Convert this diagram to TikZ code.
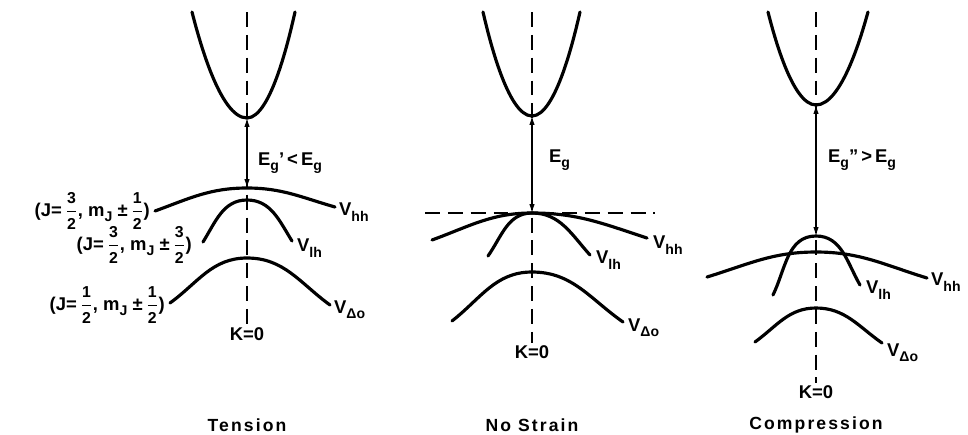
\documentclass[tikz,border=0pt]{standalone}
\usepackage{fontspec}
\setmainfont{Liberation Sans}
\usetikzlibrary{arrows.meta, positioning}
\newcommand{\lowsub}[1]{\raisebox{-0.55ex}{\footnotesize #1}}
\newcommand{\halves}[2]{$\displaystyle\frac{\mbox{\small\bfseries #1}}{\mbox{\small\bfseries #2}}$}
\tikzset{
  band/.style={line width=1.8pt, line cap=round},
  kaxis/.style={line width=1.2pt, dash pattern=on 8.5pt off 4.5pt},
  gaparrow/.style={{Latex[length=5pt,width=3pt]}-{Latex[length=5pt,width=3pt]}, line width=0.6pt},
  lbl/.style={font=\bfseries\fontsize{10.5}{12}\selectfont, inner sep=1pt},
  caption/.style={font=\bfseries\addfontfeature{LetterSpace=12}, inner sep=1pt}
}
\begin{document}
\begin{tikzpicture}[x=0.02cm, y=-0.02cm]
  \useasboundingbox (0,0) rectangle (968,434);

  % Tension
  \coordinate (topT) at (247,12);
  \coordinate (cbT) at (247,118);
  \coordinate (hhT) at (247,188);
  \coordinate (lhT) at (247,200);
  \coordinate (soT) at (247,258);
  \node[lbl] (kT) at (247,334) {K=0};
  \draw[kaxis] (topT) -- (kT.north);
  \draw[band] (192,12) parabola bend (cbT) (295,12);
  \draw[band] (155,211) to[out=20,in=180] (hhT) to[out=0,in=164] (335,207);
  \draw[band] (203,242) to[out=58,in=180] (lhT) to[out=0,in=122] (292,241);
  \draw[band] (170,303) to[out=36,in=180] (soT) to[out=0,in=144] (330,305);
  \draw[gaparrow] (cbT) -- (hhT);
  \node[lbl, anchor=west] (egT) at (256,163) {E\lowsub{g}'{\,}<{\,}E\lowsub{g}};
  \node[lbl, anchor=west] (vhhT) at (337,212) {V\lowsub{hh}};
  \node[lbl, anchor=west] (vlhT) at (295,248) {V\lowsub{lh}};
  \node[lbl, anchor=west] (vsoT) at (332,310) {V\lowsub{Δo}};
  \node[lbl, anchor=east] (jaT) at (152,211) {(J={\,}\halves{3}{2}, m\lowsub{J} ±{\,}\halves{1}{2})};
  \node[lbl, anchor=east] (jbT) at (194,245) {(J={\,}\halves{3}{2}, m\lowsub{J} ±{\,}\halves{3}{2})};
  \node[lbl, anchor=east] (jcT) at (167,305) {(J={\,}\halves{1}{2}, m\lowsub{J} ±{\,}\halves{1}{2})};
  \node[caption] (capT) at (247,425) {Tension};

  % No strain
  \coordinate (topN) at (532,12);
  \coordinate (cbN) at (532,116);
  \coordinate (vbN) at (532,213);
  \coordinate (soN) at (532,272);
  \coordinate (flatL) at (425,213);
  \coordinate (flatR) at (655,213);
  \node[lbl] (kN) at (532,352) {K=0};
  \draw[kaxis] (topN) -- (kN.north);
  \draw[kaxis] (flatL) -- (flatR);
  \draw[band] (483,12) parabola bend (cbN) (580,12);
  \draw[band] (432,240) to[out=20,in=180] (vbN) to[out=0,in=162] (647,238);
  \draw[band] (488,256) to[out=55,in=180] (vbN) to[out=0,in=132] (590,255);
  \draw[band] (452,321) to[out=38,in=180] (soN) to[out=0,in=145] (623,322);
  \draw[gaparrow] (cbN) -- (vbN);
  \node[lbl, anchor=west] (egN) at (547,160) {E\lowsub{g}};
  \node[lbl, anchor=west] (vhhN) at (651,245) {V\lowsub{hh}};
  \node[lbl, anchor=west] (vlhN) at (594,260) {V\lowsub{lh}};
  \node[lbl, anchor=west] (vsoN) at (626,328) {V\lowsub{Δo}};
  \node[caption] (capN) at (532,425) {No Strain};

  % Compression
  \coordinate (topC) at (816,12);
  \coordinate (cbC) at (816,105);
  \coordinate (lhC) at (816,236);
  \coordinate (hhC) at (816,252);
  \coordinate (soC) at (816,308);
  \node[lbl] (kC) at (816,392) {K=0};
  \draw[kaxis] (topC) -- (kC.north);
  \draw[band] (768,12) parabola bend (cbC) (868,12);
  \draw[band] (707,277) to[out=17,in=180] (hhC) to[out=0,in=163] (927,278);
  \draw[band] (773,295) to[out=64,in=180] (lhC) to[out=0,in=120] (860,285);
  \draw[band] (755,342) to[out=36,in=180] (soC) to[out=0,in=145] (882,343);
  \draw[gaparrow] (cbC) -- (lhC);
  \node[lbl, anchor=west] (egC) at (826,160) {E\lowsub{g}{"}{\,}>{\,}E\lowsub{g}};
  \node[lbl, anchor=west] (vhhC) at (929,282) {V\lowsub{hh}};
  \node[lbl, anchor=west] (vlhC) at (864,290) {V\lowsub{lh}};
  \node[lbl, anchor=west] (vsoC) at (885,353) {V\lowsub{Δo}};
  \node[caption] (capC) at (816,425) {Compression};
\end{tikzpicture}
\end{document}
